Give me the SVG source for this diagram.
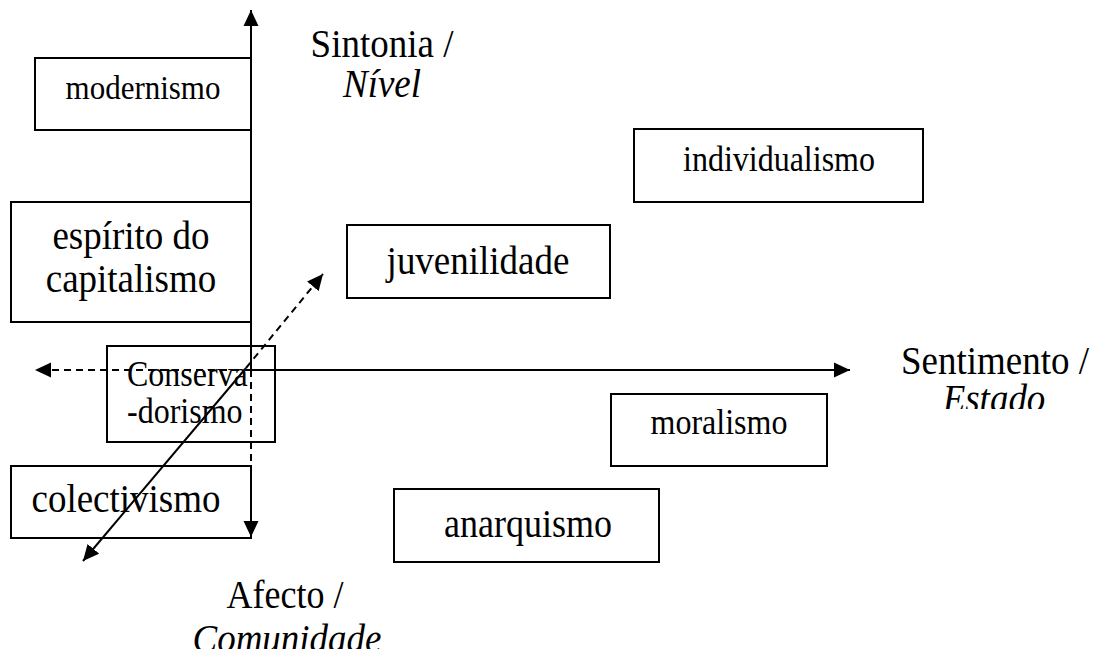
<svg xmlns="http://www.w3.org/2000/svg" width="1094" height="653" viewBox="0 0 1094 653">
<style>
.box{fill:none;stroke:#000;stroke-width:2}
.t{font-family:"Liberation Serif","Times New Roman",serif;fill:#000}
.i{font-style:italic}
.ln{stroke:#000;stroke-width:2;fill:none}
.d{stroke-dasharray:7 5}
</style>
<defs>
<marker id="ah" markerUnits="userSpaceOnUse" markerWidth="17" markerHeight="16" refX="16" refY="8" orient="auto">
<path d="M0,0.5 L16,8 L0,15.5 z" fill="#000"/>
</marker>
<clipPath id="clipE"><rect x="880" y="382" width="214" height="27"/></clipPath>
<clipPath id="clipC"><rect x="180" y="616" width="220" height="33"/></clipPath>
</defs>
<rect width="1094" height="653" fill="#fff"/>
<g id="connectors">
<line class="ln" x1="251" y1="370" x2="251" y2="10" marker-end="url(#ah)"/>
<line class="ln d" x1="251" y1="370" x2="251" y2="537" marker-end="url(#ah)"/>
<line class="ln" x1="251" y1="370" x2="850" y2="370" marker-end="url(#ah)"/>
<line class="ln d" x1="251" y1="370" x2="35" y2="370" marker-end="url(#ah)"/>
<line class="ln" x1="246" y1="368" x2="83" y2="561" marker-end="url(#ah)"/>
<line class="ln d" x1="246" y1="368" x2="323" y2="274" marker-end="url(#ah)"/>
</g>
<g id="modernismo">
<rect class="box" x="35" y="58" width="216" height="72"/>
<text class="t" font-size="31" text-anchor="middle" transform="translate(143,99) scale(1,1.1)">modernismo</text>
</g>
<g id="espirito">
<rect class="box" x="11" y="202" width="240" height="120"/>
<text class="t" font-size="37" text-anchor="middle" transform="translate(131,249) scale(1,1.1)">espírito do</text>
<text class="t" font-size="37" text-anchor="middle" transform="translate(131,292) scale(1,1.1)">capitalismo</text>
</g>
<g id="juvenilidade">
<rect class="box" x="347" y="225" width="263" height="73"/>
<text class="t" font-size="37" text-anchor="middle" transform="translate(478,274) scale(1,1.1)">juvenilidade</text>
</g>
<g id="individualismo">
<rect class="box" x="634" y="129" width="289" height="73"/>
<text class="t" font-size="32" text-anchor="middle" transform="translate(779,171) scale(1,1.1)">individualismo</text>
</g>
<g id="conservadorismo">
<rect class="box" x="107" y="346" width="168" height="96"/>
<text class="t" font-size="32" transform="translate(127,386) scale(1,1.1)">Conserva</text>
<text class="t" font-size="32" transform="translate(127,423) scale(1,1.1)">-dorismo</text>
</g>
<g id="moralismo">
<rect class="box" x="611" y="394" width="216" height="72"/>
<text class="t" font-size="32" text-anchor="middle" transform="translate(719,434) scale(1,1.1)">moralismo</text>
</g>
<g id="colectivismo">
<rect class="box" x="11" y="466" width="240" height="72"/>
<text class="t" font-size="37" text-anchor="middle" transform="translate(126,512) scale(1,1.1)">colectivismo</text>
</g>
<g id="anarquismo">
<rect class="box" x="394" y="489" width="265" height="73"/>
<text class="t" font-size="36" text-anchor="middle" transform="translate(528,537) scale(1,1.1)">anarquismo</text>
</g>
<g id="label-sintonia">
<text class="t" font-size="37" text-anchor="middle" transform="translate(382,57) scale(1,1.1)">Sintonia /</text>
<text class="t i" font-size="37" text-anchor="middle" transform="translate(382,97) scale(1,1.1)">Nível</text>
</g>
<g id="label-sentimento">
<text class="t" font-size="37" text-anchor="middle" transform="translate(995,374) scale(1,1.1)">Sentimento /</text>
<g clip-path="url(#clipE)">
<text class="t i" font-size="37" text-anchor="middle" transform="translate(994,412) scale(1,1.1)">Estado</text>
</g>
</g>
<g id="label-afecto">
<text class="t" font-size="36" text-anchor="middle" transform="translate(285,608) scale(1,1.1)">Afecto /</text>
<g clip-path="url(#clipC)">
<text class="t i" font-size="37" text-anchor="middle" transform="translate(287,652) scale(1,1.1)">Comunidade</text>
</g>
</g>
</svg>
